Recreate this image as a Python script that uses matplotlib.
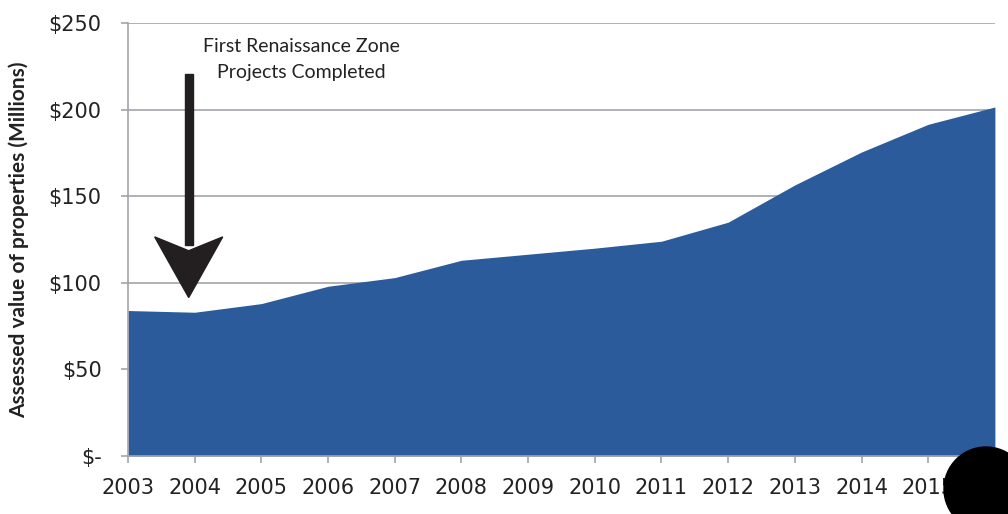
import matplotlib
matplotlib.use("Agg")
import matplotlib.pyplot as plt
from matplotlib.patches import Polygon, Circle

# Assessed value of properties, millions of dollars
years = [2003, 2004, 2005, 2006, 2007, 2008, 2009, 2010, 2011, 2012, 2013, 2014, 2015, 2016]
values = [84, 83, 88, 98, 103, 113, 116.5, 120, 124, 135, 156.5, 175.5, 191.5, 201.5]
y_ticks = [0, 50, 100, 150, 200, 250]
y_tick_labels = ["$-", "$50", "$100", "$150", "$200", "$250"]

fill_color = "#2b5b9b"
grid_color = "#a3a3ab"
arrow_color = "#231f20"

fig = plt.figure(figsize=(10.08, 5.14), dpi=100)
ax = fig.add_axes([0.127, 0.1128, 0.860, 0.8425])

ax.fill_between(years, values, 0, color=fill_color, linewidth=0, zorder=2)

ax.set_xlim(years[0], years[-1])
ax.set_ylim(0, 250)
ax.set_xticks(years)
ax.set_xticklabels([str(y) for y in years], fontsize=15, family="DejaVu Sans", color="#222222")
ax.set_yticks(y_ticks)
ax.set_yticklabels(y_tick_labels, fontsize=15, family="DejaVu Sans", color="#222222")
ax.yaxis.grid(True, color=grid_color, linewidth=1.2, zorder=1)
ax.tick_params(axis="both", length=5, color=grid_color, width=1.2)
ax.tick_params(axis="x", pad=11)
ax.tick_params(axis="y", pad=14)
for side in ["top", "right"]:
    ax.spines[side].set_visible(False)
for side in ["left", "bottom"]:
    ax.spines[side].set_color(grid_color)
    ax.spines[side].set_linewidth(1.2)

ax.set_ylabel("Assessed value of properties (Millions)", fontsize=15,
              fontweight="bold", family="Lato", color="#222222", labelpad=14)

# Callout arrow pointing down at 2004
ax_x = 2003.91
shaft_hw = 0.06
head_hw = 0.51
shaft = Polygon([(ax_x - shaft_hw, 220.5), (ax_x + shaft_hw, 220.5),
                 (ax_x + shaft_hw, 122), (ax_x - shaft_hw, 122)],
                closed=True, color=arrow_color, zorder=4)
head = Polygon([(ax_x - head_hw, 126.5), (ax_x, 118.5), (ax_x + head_hw, 126.5),
                (ax_x, 91.5)], closed=True, color=arrow_color, zorder=4)
ax.add_patch(shaft)
ax.add_patch(head)

ax.text(2005.6, 229, "First Renaissance Zone\nProjects Completed", ha="center",
        va="center", fontsize=14, family="Lato", color="#222222", linespacing=1.6)

# Black dot over the lower right corner (inches from bottom-left)
fig.patches.append(Circle((9.86, 0.25), 0.42, transform=fig.dpi_scale_trans,
                          color="black", zorder=10))

fig.savefig("out.png", dpi=100)
